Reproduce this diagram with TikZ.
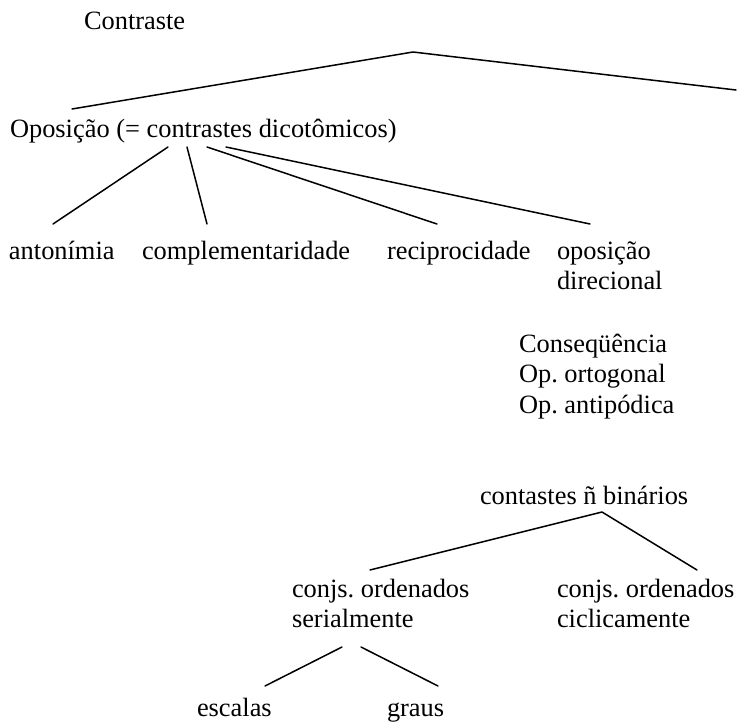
\documentclass[tikz,border=0pt]{standalone}
\usepackage{fontspec}
\setmainfont{Liberation Serif}
\frenchspacing
\begin{document}
\begin{tikzpicture}[x=1pt,y=-1pt,
  lbl/.style={anchor=base west,inner sep=0pt,outer sep=0pt,
    font=\fontsize{26.4}{30.8}\selectfont\frenchspacing},
  edge/.style={line width=1.5pt,line cap=round,line join=round}]
\useasboundingbox (0,0) rectangle (737,724);
\newcommand{\ml}[1]{\begin{tabular}[t]{@{}l@{}}#1\end{tabular}}
% texts
\node[lbl] (contraste) at (84,29) {Contraste};
\node[lbl] (oposicao) at (10,137) {Oposição (= contrastes dicotômicos)};
\node[lbl] (antonimia) at (9,259) {antonímia};
\node[lbl] (complem) at (142,259) {complementaridade};
\node[lbl] (recipro) at (387,259) {reciprocidade};
\node[lbl] (direcional) at (557,259) {\ml{oposição\\direcional}};
\node[lbl] (consequencia) at (519,352) {\ml{Conseqüência\\Op. ortogonal\\Op. antipódica}};
\node[lbl] (naobin) at (480,504) {contastes ñ binários};
\node[lbl] (serial) at (292,597) {\ml{conjs. ordenados\\serialmente}};
\node[lbl] (ciclic) at (557,597) {\ml{conjs. ordenados\\ciclicamente}};
\node[lbl] (escalas) at (197,716) {escalas};
\node[lbl] (graus) at (387,716) {graus};
% connector end points
\coordinate (c-top) at (413,52);
\coordinate (c-left) at (72,109);
\coordinate (c-right) at (736,90);
\coordinate (o1) at (168,147);
\coordinate (o2) at (187,147);
\coordinate (o3) at (207,147);
\coordinate (o4) at (226,147);
\coordinate (a-top) at (53,224);
\coordinate (cm-top) at (207,224);
\coordinate (r-top) at (437,224);
\coordinate (d-top) at (590,224);
\coordinate (n-top) at (602,512);
\coordinate (s-top) at (370,570);
\coordinate (ci-top) at (697,570);
\coordinate (s1) at (342,647);
\coordinate (s2) at (361,647);
\coordinate (e-top) at (265,686);
\coordinate (g-top) at (438,686);
% connectors
\draw[edge] (c-left) -- (c-top) -- (c-right);
\draw[edge] (o1) -- (a-top);
\draw[edge] (o2) -- (cm-top);
\draw[edge] (o3) -- (r-top);
\draw[edge] (o4) -- (d-top);
\draw[edge] (s-top) -- (n-top) -- (ci-top);
\draw[edge] (s1) -- (e-top);
\draw[edge] (s2) -- (g-top);
\end{tikzpicture}
\end{document}
